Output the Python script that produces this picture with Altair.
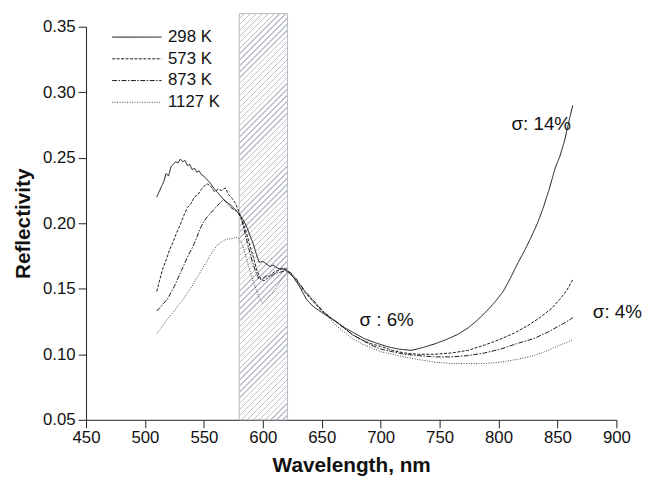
import altair as alt
import pandas as pd

# ---- data ----
series = ["298 K", "573 K", "873 K", "1127 K"]

w298 = [510, 512, 514, 516, 518, 520, 522, 524, 526, 528, 530, 532, 534, 536, 538, 540, 542, 544, 546, 548,
        550, 553, 556, 559, 562, 565, 568, 571, 574, 577, 580, 583, 586, 589, 592, 595, 597, 600, 603, 606,
        609, 612, 615, 618, 621, 625, 628, 631, 634, 637, 641, 645, 650, 655, 662, 670, 678, 686, 695, 705,
        715, 726, 735, 746, 755, 765, 774, 782, 790, 797, 804, 810, 816, 822, 828, 833, 838, 843, 848, 852,
        856, 860, 863]
r298 = [0.220, 0.224, 0.228, 0.232, 0.238, 0.236, 0.243, 0.245, 0.247, 0.246, 0.249, 0.247, 0.248, 0.244, 0.245,
        0.241, 0.242, 0.239, 0.240, 0.237, 0.236, 0.233, 0.230, 0.226, 0.223, 0.220, 0.217, 0.215, 0.213, 0.210,
        0.207, 0.203, 0.198, 0.191, 0.184, 0.175, 0.170, 0.171, 0.169, 0.167, 0.168, 0.166, 0.165, 0.165, 0.163,
        0.160, 0.156, 0.152, 0.147, 0.142, 0.138, 0.135, 0.132, 0.129, 0.125, 0.120, 0.116, 0.112, 0.109, 0.106,
        0.104, 0.103, 0.105, 0.108, 0.111, 0.115, 0.120, 0.126, 0.133, 0.140, 0.148, 0.158, 0.169, 0.179, 0.190,
        0.200, 0.212, 0.226, 0.242, 0.251, 0.263, 0.279, 0.290]

w573 = [510, 512, 515, 518, 521, 524, 527, 530, 533, 536, 539, 542, 545, 548, 551, 553, 556, 559, 562, 565,
        568, 571, 574, 577, 580, 583, 586, 589, 592, 595, 598, 601, 604, 607, 610, 613, 617, 620, 624, 628,
        632, 636, 640, 645, 650, 656, 662, 669, 676, 684, 692, 700, 710, 720, 732, 745, 760, 774, 788, 800,
        813, 825, 835, 845, 852, 858, 863]
r573 = [0.148, 0.155, 0.165, 0.172, 0.180, 0.186, 0.193, 0.199, 0.206, 0.212, 0.215, 0.220, 0.222, 0.226, 0.229,
        0.230, 0.228, 0.224, 0.226, 0.225, 0.227, 0.222, 0.219, 0.215, 0.208, 0.201, 0.193, 0.183, 0.174, 0.164,
        0.158, 0.156, 0.158, 0.161, 0.163, 0.164, 0.166, 0.165, 0.161, 0.157, 0.152, 0.147, 0.143, 0.138, 0.133,
        0.129, 0.125, 0.120, 0.115, 0.111, 0.108, 0.106, 0.103, 0.101, 0.100, 0.100, 0.101, 0.103, 0.107, 0.111,
        0.116, 0.122, 0.128, 0.135, 0.142, 0.149, 0.157]

w873 = [510, 513, 516, 519, 522, 525, 528, 531, 534, 537, 540, 543, 546, 549, 552, 555, 558, 561, 564, 567,
        570, 573, 576, 579, 582, 585, 588, 591, 594, 597, 600, 603, 606, 609, 612, 616, 620, 624, 628, 632,
        636, 640, 645, 650, 656, 662, 669, 676, 684, 692, 700, 710, 720, 732, 746, 760, 774, 788, 802, 815,
        830, 842, 852, 858, 863]
r873 = [0.133, 0.136, 0.139, 0.142, 0.147, 0.152, 0.158, 0.164, 0.170, 0.176, 0.181, 0.187, 0.194, 0.200, 0.204,
        0.207, 0.210, 0.213, 0.216, 0.218, 0.215, 0.212, 0.210, 0.208, 0.203, 0.192, 0.181, 0.171, 0.163, 0.157,
        0.158, 0.160, 0.159, 0.161, 0.162, 0.163, 0.164, 0.162, 0.158, 0.153, 0.148, 0.144, 0.139, 0.134, 0.129,
        0.125, 0.120, 0.115, 0.111, 0.107, 0.104, 0.102, 0.100, 0.099, 0.098, 0.098, 0.099, 0.101, 0.104, 0.108,
        0.112, 0.117, 0.122, 0.125, 0.128]

w1127 = [510, 513, 516, 519, 522, 525, 528, 531, 534, 537, 540, 543, 546, 549, 552, 555, 558, 561, 564, 567,
         570, 573, 576, 579, 582, 585, 588, 591, 594, 597, 600, 603, 606, 609, 612, 615, 618, 621, 625, 629,
         633, 637, 641, 646, 651, 656, 662, 669, 676, 684, 692, 700, 710, 720, 732, 746, 760, 774, 788, 802,
         815, 830, 842, 852, 858, 863]
r1127 = [0.116, 0.119, 0.123, 0.127, 0.130, 0.133, 0.137, 0.140, 0.144, 0.148, 0.152, 0.157, 0.161, 0.166, 0.170,
         0.175, 0.179, 0.183, 0.185, 0.187, 0.188, 0.188, 0.189, 0.189, 0.185, 0.177, 0.167, 0.158, 0.150, 0.143,
         0.139, 0.142, 0.145, 0.148, 0.152, 0.156, 0.160, 0.163, 0.160, 0.156, 0.151, 0.147, 0.143, 0.138, 0.133,
         0.128, 0.122, 0.117, 0.112, 0.108, 0.105, 0.102, 0.100, 0.098, 0.096, 0.094, 0.093, 0.093, 0.093, 0.094,
         0.096, 0.099, 0.103, 0.107, 0.109, 0.111]

band_start, band_end = 580, 621
band_bottom, band_top = 0.05, 0.36

notes_text = ["σ: 14%", "σ : 6%", "σ: 4%"]
notes_x = [811, 682, 880]
notes_y = [0.2755, 0.1265, 0.1322]

x_ticks = list(range(450, 901, 25))
y_ticks = [round(0.05 + 0.025 * i, 3) for i in range(13)]

# ---- build tables ----
rows = []
for name, ws, rs in zip(series, [w298, w573, w873, w1127], [r298, r573, r873, r1127]):
    for w, r in zip(ws, rs):
        rows.append({"series": name, "wl": w, "R": r})
df = pd.DataFrame(rows)
band = pd.DataFrame({"x": [band_start], "x2": [band_end], "y": [band_bottom], "y2": [band_top]})
notes = pd.DataFrame({"t": notes_text, "x": notes_x, "y": notes_y})

W, H = 537, 398
FONT = "Liberation Sans"

# hatch gradient (style only)
bw = (band_end - band_start) / 450 * W
bh = (band_top - band_bottom) / 0.30 * H
k = (bw + bh) * bh / (bw ** 2 + bh ** 2)
period = 6.0 / (bw + bh)
line_frac = 0.24
stops = []
t = 0.0
light, dark = "#ffffff", "#bcc0c9"
while t < 1.0:
    t1 = min(t + period * (1 - line_frac), 1.0)
    t2 = min(t + period, 1.0)
    stops += [{"offset": t, "color": light}, {"offset": t1, "color": light},
              {"offset": t1, "color": dark}, {"offset": t2, "color": dark}]
    t = t2
grad = {"gradient": "linear", "x1": 0, "y1": 0, "x2": k * bw / bh, "y2": k, "stops": stops}

xscale = alt.Scale(domain=[450, 900], nice=False, zero=False)
yscale = alt.Scale(domain=[0.05, 0.35], nice=False, zero=False)

xaxis = alt.Axis(values=x_ticks, title="Wavelength, nm", grid=False,
                 labelExpr="datum.value % 50 == 0 ? datum.label : ''",
                 tickSize={"condition": {"test": "datum.value % 50 == 0", "value": 8}, "value": 4},
                 labelFontSize=17, labelPadding=2, titleFontSize=21, titleFontWeight="bold",
                 titlePadding=9, labelFont=FONT, titleFont=FONT, labelColor="#111", titleColor="#111",
                 domainColor="#222", tickColor="#222", labelFlush=False, labelOverlap=False)
yaxis = alt.Axis(values=y_ticks, title="Reflectivity", grid=False, format=".2f",
                 labelExpr="round(datum.value*1000) % 50 == 0 ? datum.label : ''",
                 tickSize={"condition": {"test": "round(datum.value*1000) % 50 == 0", "value": 8}, "value": 4},
                 labelFontSize=17, labelPadding=3, titleFontSize=21, titleFontWeight="bold",
                 titlePadding=9, labelFont=FONT, titleFont=FONT, labelColor="#111", titleColor="#111",
                 domainColor="#222", tickColor="#222", labelFlush=False, labelOverlap=False)

rect = alt.Chart(band).mark_rect(fill=grad, stroke="#b3b8c4", strokeWidth=1, clip=False).encode(
    x=alt.X("x:Q", scale=xscale, axis=xaxis),
    x2="x2:Q",
    y=alt.Y("y:Q", scale=yscale, axis=yaxis),
    y2="y2:Q",
)

lines = alt.Chart(df).mark_line(strokeWidth=1).encode(
    x=alt.X("wl:Q", scale=xscale),
    y=alt.Y("R:Q", scale=yscale),
    strokeDash=alt.StrokeDash("series:N", scale=alt.Scale(domain=series,
                              range=[[1, 0], [3, 1.5], [5, 1.5, 1.5, 1.5], [1, 1.5]]),
                              title=None),
    color=alt.Color("series:N", scale=alt.Scale(domain=series,
                    range=["#111111", "#1a1a1a", "#1a1a1a", "#444444"]), title=None),
)

text = alt.Chart(notes).mark_text(align="left", baseline="middle", fontSize=19, font=FONT,
                                  color="#111").encode(
    x=alt.X("x:Q", scale=xscale), y=alt.Y("y:Q", scale=yscale), text="t:N")

chart = alt.layer(rect, lines, text).properties(
    width=W, height=H,
    autosize=alt.AutoSizeParams(type="none"),
    padding={"left": 79, "top": 16, "right": 32, "bottom": 60},
).configure_view(stroke=None).configure_legend(
    orient="none", legendX=43, legendY=2, padding=0,
    symbolType="M-5,0H5", symbolSize=100, symbolStrokeWidth=1,
    labelFontSize=17, labelFont=FONT, labelColor="#111", labelOffset=23, rowPadding=4,
)

chart.save("out.html", embed_options={"renderer": "svg", "actions": False})
